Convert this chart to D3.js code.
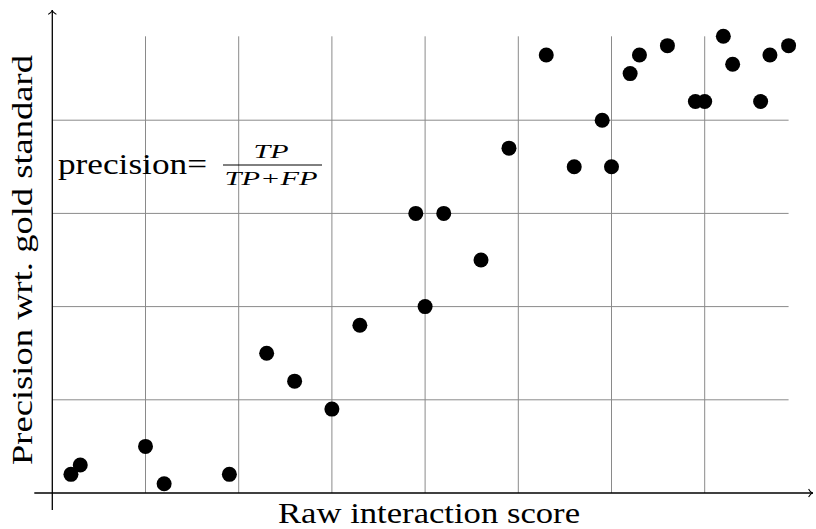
<!DOCTYPE html>
<html lang="en">
<head>
<meta charset="utf-8" />
<title>Precision vs raw interaction score</title>
<script src="https://d3js.org/d3.v7.min.js"></script>
<style>
  body { margin: 0; background: #fff; }
  text { font-family: "Liberation Serif", "Times New Roman", serif; fill: #000; }
</style>
</head>
<body>
<div id="chart"></div>
<script>
// data
var scores    = [0.02, 0.03, 0.10, 0.12, 0.19, 0.23, 0.26, 0.30, 0.33, 0.39, 0.40, 0.42, 0.46, 0.49,
                 0.53, 0.56, 0.59, 0.60, 0.62, 0.63, 0.66, 0.69, 0.70, 0.72, 0.73, 0.76, 0.77, 0.79];
var precision = [0.02, 0.03, 0.05, 0.01, 0.02, 0.15, 0.12, 0.09, 0.18, 0.30, 0.20, 0.30, 0.25, 0.37,
                 0.47, 0.35, 0.40, 0.35, 0.45, 0.47, 0.48, 0.42, 0.42, 0.49, 0.46, 0.42, 0.47, 0.48];
var xGrid = [0.1, 0.2, 0.3, 0.4, 0.5, 0.6, 0.7];
var yGrid = [0.1, 0.2, 0.3, 0.4];

var width = 816, height = 529;

var svg = d3.select("#chart").append("svg")
    .attr("width", width)
    .attr("height", height);

// one grid unit is about 93px
var x = d3.scaleLinear().domain([0, 0.8]).range([52.3, 52.3 + 8 * 93.2]);
var y = d3.scaleLinear().domain([0, 0.5]).range([493, 493 - 5 * 93.2]);

// grid (help lines)
svg.append("g").selectAll("line").data(xGrid).enter().append("line")
    .attr("x1", function (d) { return x(d); })
    .attr("x2", function (d) { return x(d); })
    .attr("y1", y(0))
    .attr("y2", y(0.49))
    .attr("stroke", "#8a8a8a")
    .attr("stroke-width", 1);

svg.append("g").selectAll("line").data(yGrid).enter().append("line")
    .attr("x1", x(0))
    .attr("x2", x(0.79))
    .attr("y1", function (d) { return y(d); })
    .attr("y2", function (d) { return y(d); })
    .attr("stroke", "#8a8a8a")
    .attr("stroke-width", 1);

// axes with open arrow tips
function arrow(x1, y1, x2, y2) {
    svg.append("line")
        .attr("x1", x1).attr("y1", y1).attr("x2", x2).attr("y2", y2)
        .attr("stroke", "#000").attr("stroke-width", 1.3);
    var a = Math.atan2(y2 - y1, x2 - x1), s = 6;
    var p = d3.path();
    p.moveTo(x2 - s * Math.cos(a - 0.75), y2 - s * Math.sin(a - 0.75));
    p.quadraticCurveTo(x2 - 2 * Math.cos(a), y2 - 2 * Math.sin(a), x2, y2);
    p.quadraticCurveTo(x2 - 2 * Math.cos(a), y2 - 2 * Math.sin(a),
        x2 - s * Math.cos(a + 0.75), y2 - s * Math.sin(a + 0.75));
    svg.append("path").attr("d", p.toString())
        .attr("fill", "none").attr("stroke", "#000").attr("stroke-width", 1.1);
}
arrow(x(0) - 18, y(0), 813, y(0));
arrow(x(0), y(0) + 17, x(0), 10);

// points
svg.append("g").selectAll("circle").data(scores).enter().append("circle")
    .attr("cx", function (d) { return x(d); })
    .attr("cy", function (d, i) { return y(precision[i]); })
    .attr("r", 7.5)
    .attr("fill", "#000");

// axis labels
svg.append("text")
    .attr("x", 429).attr("y", 523)
    .attr("text-anchor", "middle")
    .attr("font-size", 29)
    .attr("textLength", 302).attr("lengthAdjust", "spacingAndGlyphs")
    .text("Raw interaction score");

svg.append("text")
    .attr("transform", "translate(32,260) rotate(-90)")
    .attr("text-anchor", "middle")
    .attr("font-size", 29)
    .attr("textLength", 410).attr("lengthAdjust", "spacingAndGlyphs")
    .text("Precision wrt.  gold standard");

// formula
svg.append("text")
    .attr("x", 58).attr("y", 174)
    .attr("font-size", 29)
    .attr("textLength", 149).attr("lengthAdjust", "spacingAndGlyphs")
    .text("precision=");

svg.append("line")
    .attr("x1", 223).attr("x2", 322)
    .attr("y1", 165).attr("y2", 165)
    .attr("stroke", "#000").attr("stroke-width", 1);

svg.append("text")
    .attr("x", 271).attr("y", 158)
    .attr("text-anchor", "middle")
    .attr("font-size", 19).attr("font-style", "italic")
    .attr("textLength", 35).attr("lengthAdjust", "spacingAndGlyphs")
    .text("TP");

svg.append("text")
    .attr("x", 271).attr("y", 185)
    .attr("text-anchor", "middle")
    .attr("font-size", 19).attr("font-style", "italic")
    .attr("textLength", 93).attr("lengthAdjust", "spacingAndGlyphs")
    .text("TP+FP");
</script>
</body>
</html>
